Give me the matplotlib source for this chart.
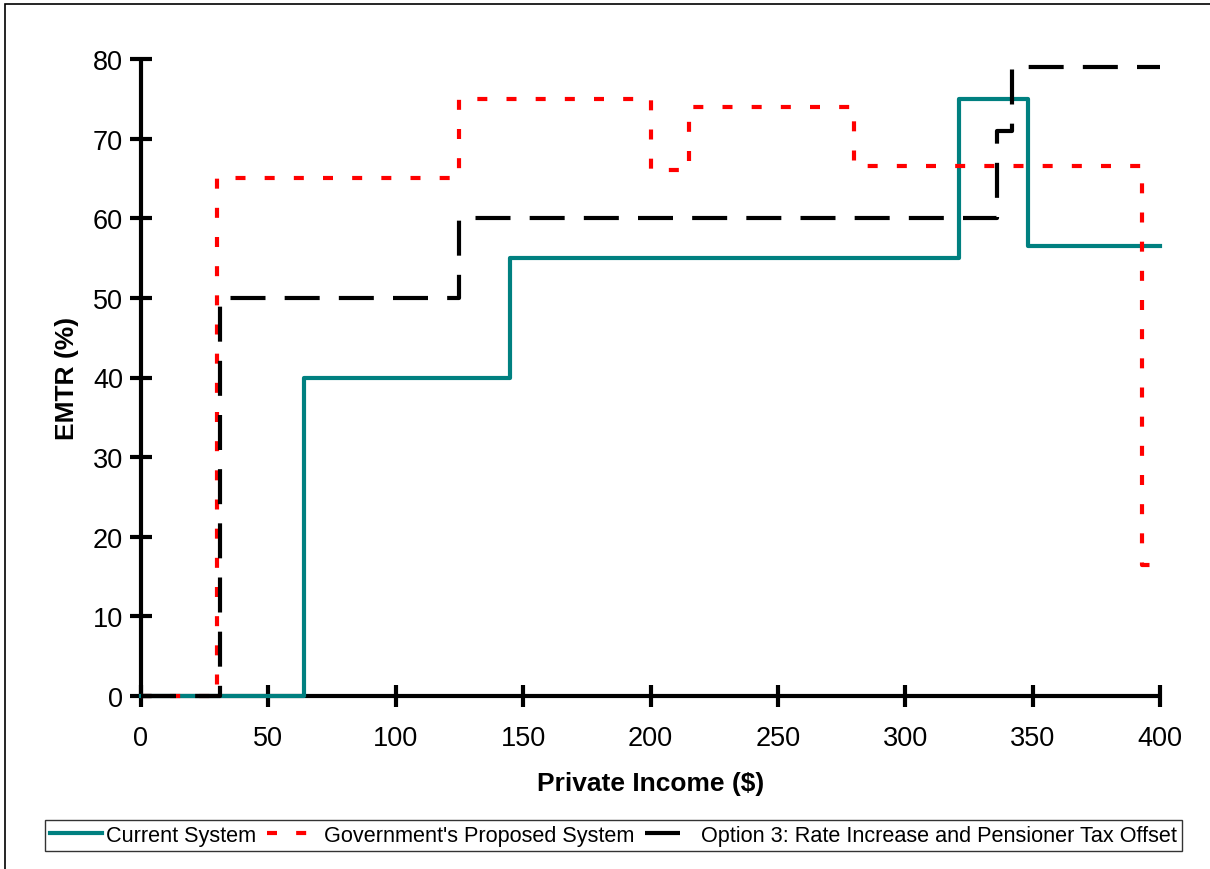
import matplotlib.pyplot as plt
from matplotlib.patches import Rectangle

plt.rcParams['font.family'] = ['Liberation Sans', 'DejaVu Sans']

# break points (x) and EMTR (%) that holds from each point on
current_x = [0, 64, 145, 321, 348, 400]
current_y = [0, 40, 55, 75, 56.5, 56.5]

gov_x = [0, 30, 125, 200, 215, 280, 393, 400]
gov_y = [0, 65, 75, 66, 74, 66.5, 16.5, 16.5]

opt3_x = [0, 31, 125, 336, 342, 400]
opt3_y = [0, 50, 60, 71, 79, 79]

labels = ["Current System", "Government's Proposed System",
          "Option 3: Rate Increase and Pensioner Tax Offset"]

fig = plt.figure(figsize=(12.1, 8.7), dpi=100)
ax = fig.add_axes([141/1210, 1 - 697/870, (1160 - 141)/1210, (697 - 60)/870])

ax.plot(current_x, current_y, drawstyle='steps-post', color='#008080',
        lw=3, zorder=3, clip_on=False, label=labels[0])
ax.plot(gov_x, gov_y, drawstyle='steps-post', color='#ff0000',
        lw=3, dashes=(2.4, 4.6), zorder=4, clip_on=False, label=labels[1])
ax.plot(opt3_x, opt3_y, drawstyle='steps-post', color='black',
        lw=3, dashes=(8.4, 4.6), zorder=5, clip_on=False, label=labels[2])

ax.set_xlim(0, 400)
ax.set_ylim(0, 80)
ax.set_xticks(range(0, 401, 50))
ax.set_yticks(range(0, 81, 10))

for s in ['top', 'right']:
    ax.spines[s].set_visible(False)
for s in ['left', 'bottom']:
    ax.spines[s].set_linewidth(3)
    ax.spines[s].set_capstyle('round')

ax.tick_params(direction='inout', length=16, width=3, labelsize=19.5, pad=5)
ax.tick_params(axis='x', pad=13)

ax.set_xlabel('Private Income ($)', fontsize=19, fontweight='bold', labelpad=14)
ax.set_ylabel('EMTR (%)', fontsize=19, fontweight='bold', labelpad=10)

leg = fig.legend(loc='center', bbox_to_anchor=(0.507, 1 - 836.5/870), ncol=3,
                 fontsize=15.6, frameon=True, fancybox=False, edgecolor='black',
                 handlelength=2.4, handletextpad=0.2, columnspacing=0.5,
                 borderpad=0.25, borderaxespad=0)
leg.get_frame().set_linewidth(1)

# outer chart border
fig.patches.append(Rectangle((5/1210, -0.1), 1.2, 1 - 5/870 + 0.1,
                             transform=fig.transFigure, fill=False,
                             edgecolor='black', lw=1.2))

fig.savefig('out.png', dpi=100)
